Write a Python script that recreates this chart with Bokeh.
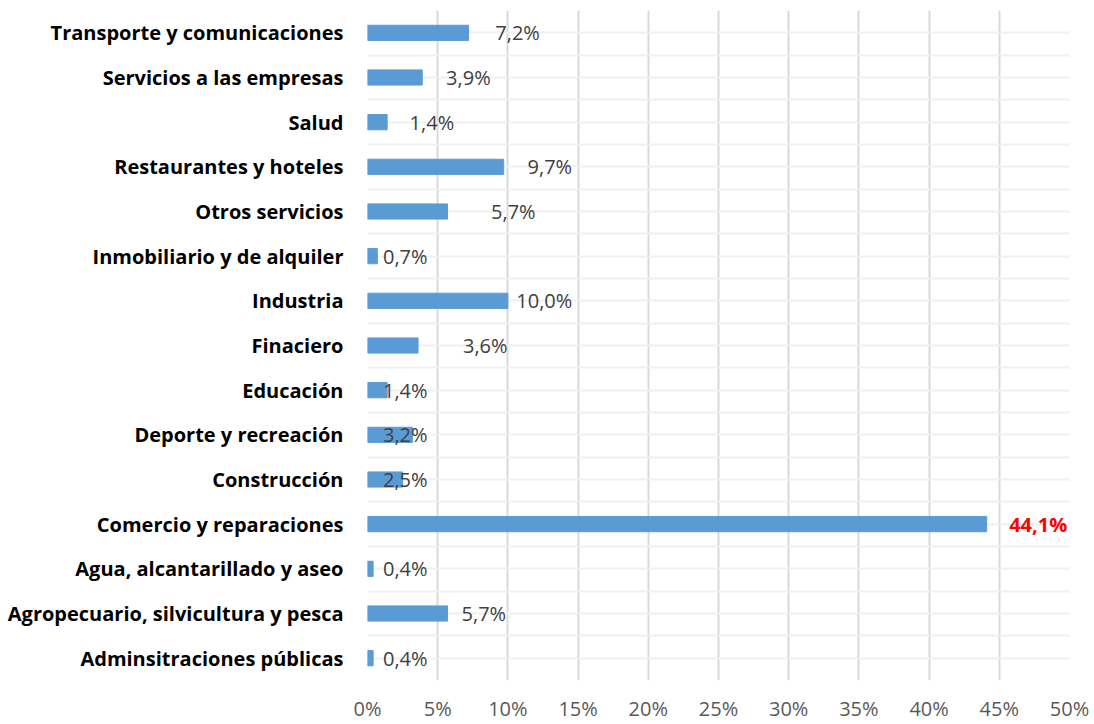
from bokeh.plotting import figure
from bokeh.models import ColumnDataSource, FixedTicker, Range1d
from bokeh.core.properties import value
from bokeh.embed import file_html
from bokeh.resources import INLINE

# top-to-bottom order as in the picture
categories = [
    "Transporte y comunicaciones",
    "Servicios a las empresas",
    "Salud",
    "Restaurantes y hoteles",
    "Otros servicios",
    "Inmobiliario y de alquiler",
    "Industria",
    "Finaciero",
    "Educación",
    "Deporte y recreación",
    "Construcción",
    "Comercio y reparaciones",
    "Agua, alcantarillado y aseo",
    "Agropecuario, silvicultura y pesca",
    "Adminsitraciones públicas",
]
values = [7.2, 3.9, 1.4, 9.7, 5.7, 0.7, 10.0, 3.6, 1.4, 3.2, 2.5, 44.1, 0.4, 5.7, 0.4]
value_labels = ["7,2%", "3,9%", "1,4%", "9,7%", "5,7%", "0,7%", "10,0%", "3,6%",
                "1,4%", "3,2%", "2,5%", "44,1%", "0,4%", "5,7%", "0,4%"]
# where each label was placed (left edge, in % units)
label_x = [9.1, 5.6, 3.0, 11.4, 8.8, 1.1, 10.6, 6.8, 1.1, 1.1, 1.1, 45.7, 1.1, 6.7, 1.1]
label_colors = ["#404040"] * 11 + ["#ff0000"] + ["#404040"] * 3
label_styles = ["normal"] * 11 + ["bold"] + ["normal"] * 3
x_ticks = [0, 5, 10, 15, 20, 25, 30, 35, 40, 45, 50]
x_tick_labels = ["0%", "5%", "10%", "15%", "20%", "25%", "30%", "35%", "40%", "45%", "50%"]

n = len(categories)
ypos = [n - 1 - i for i in range(n)]

src = ColumnDataSource(dict(y=ypos, v=values, lab=value_labels, lx=label_x,
                            col=label_colors, sty=label_styles))

p = figure(width=1090, height=724, output_backend="svg", toolbar_location=None,
           x_range=Range1d(0, 50), y_range=Range1d(-0.5, n - 0.5),
           min_border_left=367, min_border_right=21, min_border_top=10, min_border_bottom=43)
p.outline_line_color = None
p.background_fill_color = "white"

p.hbar(y="y", right="v", left=0, height=0.34, source=src, color="#5b9bd5")
p.text(x="lx", y="y", text="lab", source=src, text_color="col", text_font_style="sty",
       text_font=value("Open Sans"), text_font_size="20px", text_baseline="middle", text_align="left")

p.xaxis.ticker = FixedTicker(ticks=x_ticks)
p.xaxis.major_label_overrides = {t: l for t, l in zip(x_ticks, x_tick_labels)}
p.xaxis.axis_line_color = None
p.xaxis.major_tick_line_color = None
p.xaxis.minor_tick_line_color = None
p.xaxis.major_tick_out = 0
p.xaxis.major_tick_in = 0
p.xaxis.minor_tick_out = 0
p.xaxis.major_label_text_font = "Open Sans"
p.xaxis.major_label_text_font_size = "20px"
p.xaxis.major_label_text_color = "#595959"
p.xaxis.major_label_standoff = 14

p.yaxis.ticker = FixedTicker(ticks=list(range(n)),
                             minor_ticks=[i - 0.5 for i in range(n + 1)])
p.yaxis.major_label_overrides = {y: c for y, c in zip(ypos, categories)}
p.yaxis.axis_line_color = None
p.yaxis.major_tick_line_color = None
p.yaxis.minor_tick_line_color = None
p.yaxis.major_tick_out = 0
p.yaxis.major_tick_in = 0
p.yaxis.minor_tick_out = 0
p.yaxis.major_label_text_font = "Open Sans"
p.yaxis.major_label_text_font_style = "bold"
p.yaxis.major_label_text_font_size = "20px"
p.yaxis.major_label_text_color = "#000000"
p.yaxis.major_label_standoff = 24

p.xgrid.grid_line_color = "#d9d9d9"
p.xgrid.grid_line_width = 2
p.ygrid.grid_line_color = "#f0f0f0"
p.ygrid.grid_line_width = 2
p.ygrid.minor_grid_line_color = "#f0f0f0"
p.ygrid.minor_grid_line_width = 2

open("out.html", "w").write(file_html(p, INLINE))
